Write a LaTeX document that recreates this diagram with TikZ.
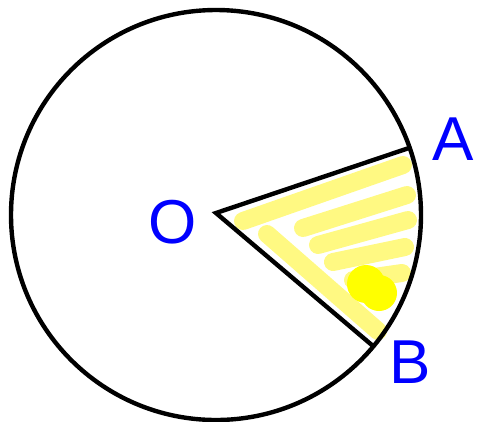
\documentclass[tikz,border=0pt]{standalone}
\usepackage{fontspec}
\setmainfont{Liberation Sans}
\begin{document}
\begin{tikzpicture}[x=1pt,y=-1pt,
  edge/.style={draw=black,line width=4.4pt,line join=miter},
  paleband/.style={draw={rgb,255:red,255;green,249;blue,130},line width=18pt,line cap=round},
  blob/.style={fill={rgb,255:red,255;green,255;blue,0}},
  lbl/.style={text=blue,font=\fontsize{62}{62}\selectfont,inner sep=0pt}]
\useasboundingbox (0,0) rectangle (479,421);
\coordinate (C) at (216,215);
\coordinate (O) at (216,213);
\coordinate (A) at (409,148);
\coordinate (B) at (373,346);
% yellow strokes
\coordinate (s1a) at (243,221); \coordinate (s1b) at (403,165);
\coordinate (s2a) at (267,234); \coordinate (s2b) at (378,331);
\coordinate (s3a) at (303,228); \coordinate (s3b) at (407,195);
\coordinate (s4a) at (318,245); \coordinate (s4b) at (408,220);
\coordinate (s5a) at (333,262); \coordinate (s5b) at (405,247);
\coordinate (s6a) at (353,280); \coordinate (s6b) at (402,273);
\draw[paleband] (s1a) -- (s1b);
\draw[paleband] (s2a) -- (s2b);
\draw[paleband] (s3a) -- (s3b);
\draw[paleband] (s4a) -- (s4b);
\draw[paleband] (s5a) -- (s5b);
\draw[paleband] (s6a) -- (s6b);
\fill[blob] (366,284) circle (19);
\fill[blob] (379,293) circle (18);
% circle and radii
\draw[edge] (C) circle (205);
\draw[edge] (A) -- (O) -- (B);
% labels
\node[lbl] (lO) at (173,222) {O};
\node[lbl] (lA) at (453,139) {A};
\node[lbl] (lB) at (410,362) {B};
\end{tikzpicture}
\end{document}
